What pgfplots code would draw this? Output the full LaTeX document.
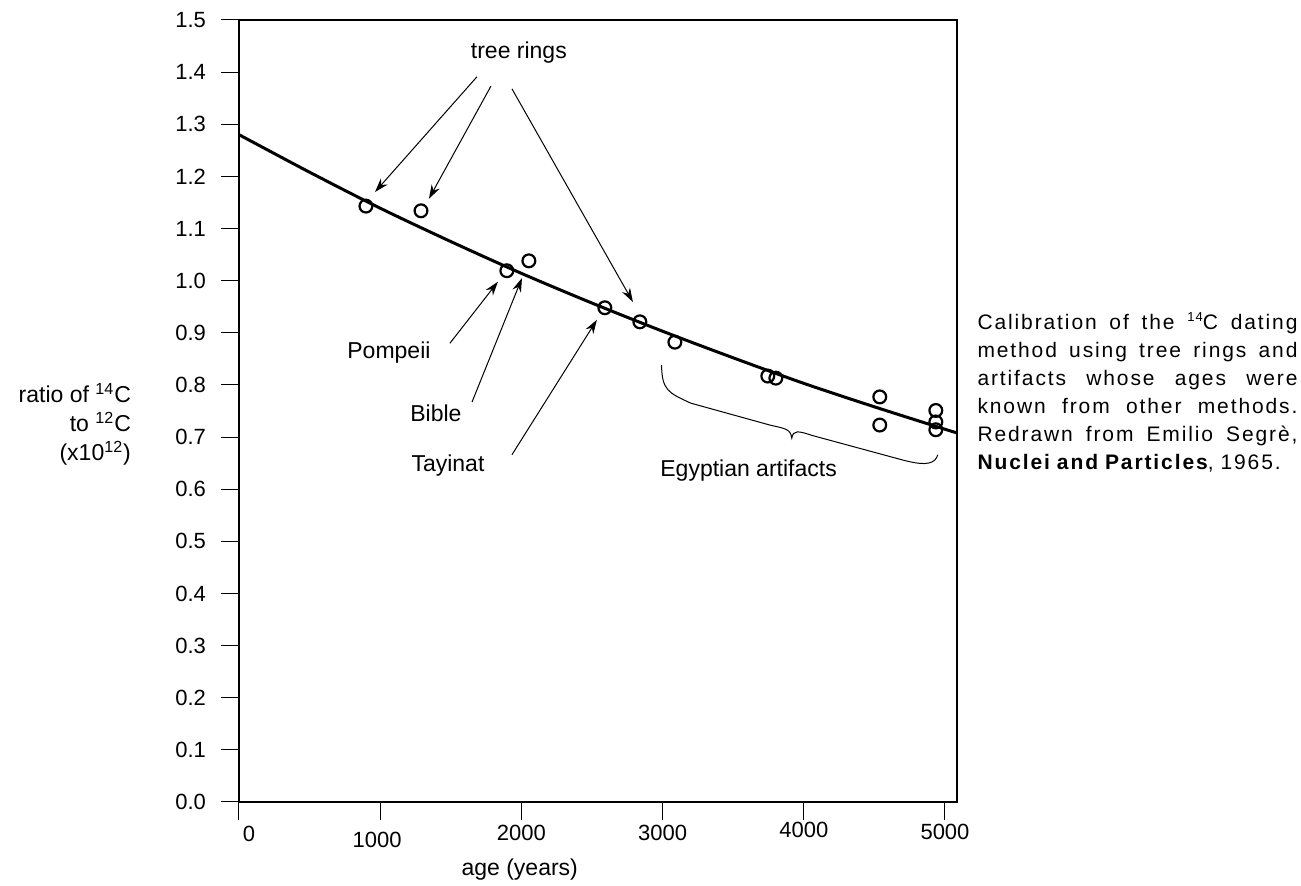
\documentclass[border=0pt]{standalone}
\usepackage{fontspec}
\setmainfont{Liberation Sans}
\newfontfamily\captionfont[LetterSpace=9]{Liberation Sans}
\usepackage{pgfplots}
\pgfplotsset{compat=1.18}
\usetikzlibrary{arrows.meta}

\newcommand{\lowered}[2]{\raisebox{#1}[\height][\depth]{#2}}
% one justified line of the side note
\newcommand{\jline}[1]{\leavevmode\hbox to 160pt{\spaceskip=0.3em plus 1fil\relax #1}}

\begin{document}
\begin{tikzpicture}[
    note/.style={font=\fontsize{11.5}{13}\selectfont},
    pointer/.style={line width=0.5pt, -{Stealth[length=7pt,width=4.5pt]}}
]
% page size: 1301x886 px at 2 px per pt, axis box at lower left (0,0)
\useasboundingbox (-119.5pt,-42pt) rectangle (531pt,401pt);
\begin{axis}[
    scale only axis,
    width=359pt, height=391pt,
    xmin=0, xmax=5085,
    ymin=0, ymax=1.5,
    xtick={0,1000,2000,3000,4000,5000},
    xticklabels={\hspace*{10pt}\lowered{0.5pt}{0}, \lowered{-2.5pt}{1000}\hspace*{3pt},
                 \lowered{1pt}{2000}, \lowered{1pt}{3000}, \lowered{2.5pt}{4000}, \lowered{1.5pt}{5000}},
    ytick={0,0.1,...,1.5},
    yticklabel style={/pgf/number format/fixed, /pgf/number format/fixed zerofill,
                      /pgf/number format/precision=1, xshift=-4pt},
    /pgf/number format/assume math mode=true,
    tick label style={font=\fontsize{11}{13}\selectfont},
    tick align=outside,
    tick pos=left,
    major tick length=9pt,
    every tick/.style={black, line width=0.5pt},
    axis line style={line width=0.6pt},
    xlabel={age (years)},
    xlabel style={font=\fontsize{11.5}{13}\selectfont, at={(axis description cs:0.391,0)}, anchor=center, yshift=-34pt},
    clip=false,
]
% decay curve
\addplot[black, line width=1.5pt, smooth] coordinates {
    (0,1.280) (500,1.208) (1000,1.139) (1500,1.075) (2000,1.014)
    (2500,0.957) (3000,0.903) (3500,0.852) (4000,0.803) (4500,0.758)
    (5000,0.715) (5085,0.708)
};
% tree rings and artifacts
\addplot[only marks, mark=o, mark size=3.2pt, mark options={line width=1.1pt, fill=white}] coordinates {
    (899,1.143) (1289,1.134) (1897,1.019) (2053,1.038) (2591,0.948)
    (2839,0.921) (3087,0.882) (3745,0.817) (3802,0.813) (4538,0.777)
    (4538,0.723) (4935,0.751) (4935,0.729) (4935,0.714)
};

\node[note] at (axis cs:1982,1.437) {tree rings};
\draw[pointer] (axis cs:1685,1.391) -- (axis cs:963,1.170);
\draw[pointer] (axis cs:1784,1.373) -- (axis cs:1345,1.157);
\draw[pointer] (axis cs:1933,1.368) -- (axis cs:2790,0.959);

\node[note] at (axis cs:1062,0.863) {Pompeii};
\draw[pointer] (axis cs:1494,0.880) -- (axis cs:1834,0.998);
\node[note] at (axis cs:1395,0.746) {Bible};
\draw[pointer] (axis cs:1650,0.767) -- (axis cs:2004,1.005);
\node[note] at (axis cs:1480,0.645) {Tayinat};
\draw[pointer] (axis cs:1933,0.666) -- (axis cs:2535,0.925);

% brace under the Egyptian artifacts
\draw[line width=0.5pt] (axis cs:2993,0.838)
    .. controls (axis cs:2995,0.790) and (axis cs:3040,0.785) .. (axis cs:3200,0.765)
    -- (axis cs:3760,0.723)
    .. controls (axis cs:3870,0.716) and (axis cs:3905,0.716) .. (axis cs:3915,0.698)
    .. controls (axis cs:3925,0.714) and (axis cs:3960,0.712) .. (axis cs:4060,0.703)
    -- (axis cs:4700,0.656)
    .. controls (axis cs:4880,0.643) and (axis cs:4930,0.650) .. (axis cs:4949,0.666);
\node[note] at (axis cs:3609,0.635) {Egyptian artifacts};

\node[anchor=east, align=right, inner sep=0pt, font=\fontsize{11.5}{14.5}\selectfont]
    at (axis description cs:-0.150,0.483)
    {ratio of \textsuperscript{14}C\\ to \textsuperscript{12}C\\ (x10\textsuperscript{12})};

\node[anchor=north west, inner sep=0pt, text width=160pt, align=left,
      font=\fontsize{10.5}{14}\selectfont\captionfont] at (axis description cs:1.028,0.626)
    {\jline{Calibration of the {\fontsize{6.5}{6.5}\selectfont\raisebox{3.8pt}{14}}C dating}\\
     \jline{method using tree rings and}\\
     \jline{artifacts whose ages were}\\
     \jline{known from other methods.}\\
     \jline{Redrawn from Emilio Segrè,}\\
     \textbf{Nuclei and Particles}, 1965.};
\end{axis}
\end{tikzpicture}
\end{document}
